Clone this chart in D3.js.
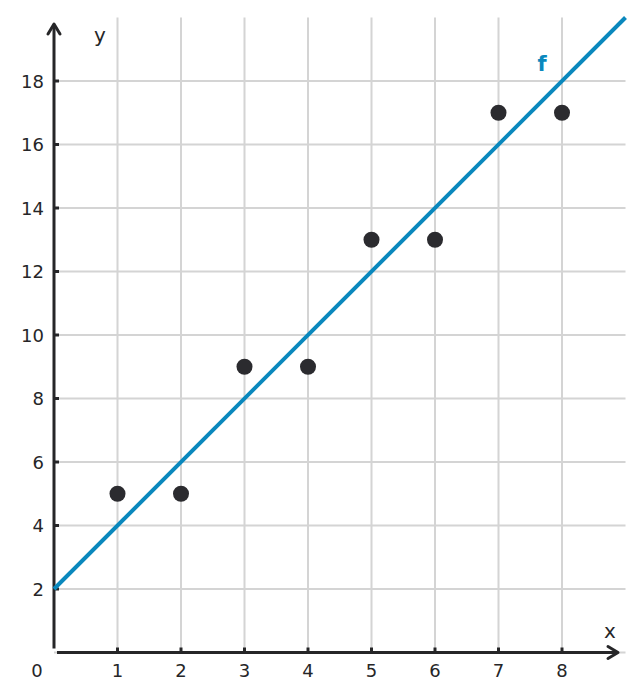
<!DOCTYPE html>
<html><head><meta charset="utf-8">
<script src="https://cdn.jsdelivr.net/npm/d3@7"></script>
<style>body{margin:0;background:#fff}svg{display:block}text{font-family:"DejaVu Sans",sans-serif}</style>
</head><body><svg id="c" width="643" height="700"></svg>
<script>
const pointX = [1, 2, 3, 4, 5, 6, 7, 8];
const pointY = [5, 5, 9, 9, 13, 13, 17, 17];
const xTicks = [1, 2, 3, 4, 5, 6, 7, 8];
const yTicks = [2, 4, 6, 8, 10, 12, 14, 16, 18];
const lineSlope = 2, lineIntercept = 2;
const lineLabel = "f";

const svg = d3.select("#c");
const x = d3.scaleLinear().domain([0, 8]).range([54, 562]);
const y = d3.scaleLinear().domain([2, 18]).range([589, 81]);
const xMax = 9, yMax = 20;
const grid = "#d4d4d4", ink = "#262628", blue = "#0a88bd";

// grid
svg.append("g").selectAll("line").data(xTicks).join("line")
  .attr("x1", d => x(d)).attr("x2", d => x(d)).attr("y1", y(yMax)).attr("y2", y(0))
  .attr("stroke", grid).attr("stroke-width", 2);
svg.append("g").selectAll("line").data([0].concat(yTicks)).join("line")
  .attr("x1", x(0)).attr("x2", x(xMax)).attr("y1", d => y(d)).attr("y2", d => y(d))
  .attr("stroke", grid).attr("stroke-width", 2);

// axes
svg.append("line").attr("x1", x(0)).attr("x2", x(0)).attr("y1", y(0) - 4).attr("y2", 25)
  .attr("stroke", ink).attr("stroke-width", 3);
svg.append("path").attr("d", `M${x(0)-6},${34} L${x(0)},${24} L${x(0)+6},${34}`)
  .attr("fill", "none").attr("stroke", ink).attr("stroke-width", 3).attr("stroke-linecap", "round").attr("stroke-linejoin", "round");
svg.append("line").attr("x1", x(0) + 3).attr("x2", 618).attr("y1", y(0)).attr("y2", y(0))
  .attr("stroke", ink).attr("stroke-width", 3);
svg.append("path").attr("d", `M608,${y(0)-6} L618,${y(0)} L608,${y(0)+6}`)
  .attr("fill", "none").attr("stroke", ink).attr("stroke-width", 3).attr("stroke-linecap", "round").attr("stroke-linejoin", "round");

// ticks
svg.append("g").selectAll("line").data(xTicks).join("line")
  .attr("x1", d => x(d)).attr("x2", d => x(d)).attr("y1", y(0)).attr("y2", y(0) - 5)
  .attr("stroke", ink).attr("stroke-width", 3);
svg.append("g").selectAll("line").data(yTicks).join("line")
  .attr("x1", x(0)).attr("x2", x(0) + 5).attr("y1", d => y(d)).attr("y2", d => y(d))
  .attr("stroke", ink).attr("stroke-width", 3);

// tick labels
svg.append("g").selectAll("text").data(xTicks).join("text")
  .attr("x", d => x(d)).attr("y", 677).attr("text-anchor", "middle")
  .attr("font-size", 18).attr("fill", ink).text(d => d);
svg.append("g").selectAll("text").data(yTicks).join("text")
  .attr("x", 44).attr("y", d => y(d) + 6.5).attr("text-anchor", "end")
  .attr("font-size", 18).attr("fill", ink).text(d => d);
svg.append("text").attr("x", 37).attr("y", 677).attr("text-anchor", "middle")
  .attr("font-size", 18).attr("fill", ink).text("0");
svg.append("text").attr("x", 100).attr("y", 42).attr("text-anchor", "middle")
  .attr("font-size", 20).attr("fill", ink).text("y");
svg.append("text").attr("x", 610).attr("y", 638).attr("text-anchor", "middle")
  .attr("font-size", 20).attr("fill", ink).text("x");

// line f
const fx = d => lineSlope * d + lineIntercept;
const lineXs = [0, (yMax - lineIntercept) / lineSlope];
svg.append("path").datum(lineXs)
  .attr("d", d3.line().x(d => x(d)).y(d => y(fx(d))))
  .attr("stroke", blue).attr("stroke-width", 4).attr("fill", "none");
svg.append("text").attr("x", 542).attr("y", 71).attr("text-anchor", "middle")
  .attr("font-size", 21).attr("font-weight", "bold").attr("fill", blue).text(lineLabel);

// points
svg.append("g").selectAll("circle").data(pointX.map((v, i) => [v, pointY[i]])).join("circle")
  .attr("cx", d => x(d[0])).attr("cy", d => y(d[1])).attr("r", 8).attr("fill", "#2b2b2f");
</script></body></html>
